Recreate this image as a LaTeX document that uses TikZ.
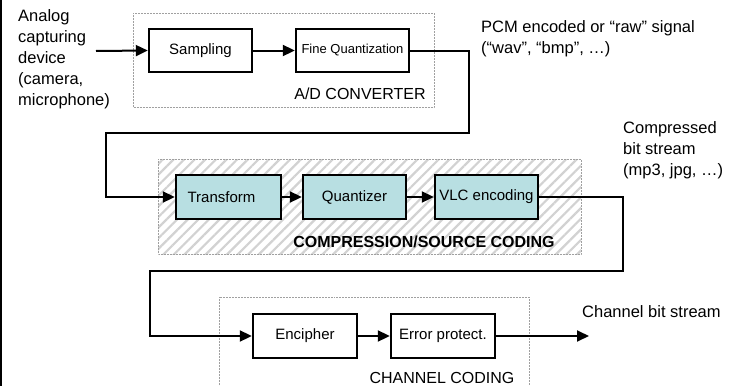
\documentclass[tikz,border=0pt]{standalone}
\usepackage{fontspec}
\setsansfont{Liberation Sans}
\usetikzlibrary{arrows.meta,patterns.meta}
\definecolor{blkink}{HTML}{000000}
\definecolor{grpgray}{HTML}{A0A0A0}
\definecolor{hatchgray}{HTML}{D2D2D2}
\definecolor{codecyan}{HTML}{B8DFE2}

\begin{document}
\begin{tikzpicture}[x=1pt, y=-1pt, font=\sffamily, text=blkink,
    block/.style={draw=blkink, line width=2.4pt, inner sep=0pt, minimum height=43pt,
      font=\sffamily\fontsize{15}{18}\selectfont},
    group/.style={draw=grpgray, line width=0.5pt, densely dotted},
    grouplabel/.style={inner sep=0pt, font=\sffamily\fontsize{16}{19}\selectfont},
    note/.style={inner sep=0pt, align=left, font=\sffamily\fontsize{16.5}{21}\selectfont},
    flow/.style={draw=blkink, line width=2pt, -{Triangle[length=12pt, width=11pt]}},
  ]
  \useasboundingbox (0,0) rectangle (740,386);

  % frame edge on the left
  \draw[line width=2pt] (1,0) -- (1,386);

  % group frames
  \draw[group] (133,13) rectangle (434,107);
  \fill[pattern={Lines[angle=45, distance=7.5pt, line width=2.2pt]}, pattern color=hatchgray]
    (158,159) rectangle (581,254);
  \draw[group] (158,159) rectangle (581,254);
  \draw[group] (219,297) rectangle (529,395);
  \node[grouplabel] (adclab) at (360,94) {A/D CONVERTER};
  \node[grouplabel, font=\sffamily\bfseries\fontsize{16}{19}\selectfont] (complab) at (424,242) {COMPRESSION/SOURCE CODING};
  \node[grouplabel] (chanlab) at (442,378) {CHANNEL CODING};

  % A/D converter
  \node[block, minimum width=103pt] (sampling) at (200.5,50.5) {Sampling};
  \node[block, minimum width=113pt, font=\sffamily\fontsize{13}{16}\selectfont] (fineq) at (352.5,50.5) {Fine Quantization};

  % source coding
  \node[block, fill=codecyan, minimum width=105pt, minimum height=44pt] (transform) at (228.5,197) {\hspace*{-14pt}Transform};
  \node[block, fill=codecyan, minimum width=103pt, minimum height=44pt] (quant) at (354.5,197) {Quantizer};
  \node[block, fill=codecyan, minimum width=103pt, minimum height=44pt] (vlc) at (486.5,197) {VLC encoding};

  % channel coding
  \node[block, minimum width=104pt, minimum height=44pt] (encipher) at (305,336) {Encipher};
  \node[block, minimum width=104pt, minimum height=44pt] (errprot) at (443,336) {Error protect.};

  % notes
  \node[note, anchor=north west] (analog) at (18,9) {Analog\\capturing\\device\\(camera,\\microphone)};
  \node[note, anchor=north west] (pcm) at (481,20) {PCM encoded or “raw” signal\\(“wav”, “bmp”, …)};
  \node[note, anchor=north west] (compressed) at (623,121) {Compressed\\bit stream\\(mp3, jpg, …)};
  \node[note, anchor=west] (chanstream) at (582,312) {Channel bit stream};

  % turning points of the connectors
  \coordinate (capin) at (96,51);
  \coordinate (bendA) at (469,133);
  \coordinate (bendB) at (106,133);
  \coordinate (bendC) at (623,271);
  \coordinate (bendD) at (150,271);
  \coordinate (chanout) at (589,336);

  % connectors
  \draw[flow] (capin) -- (sampling.west);
  \draw[flow] (sampling) -- (fineq);
  \draw[flow] (fineq.east) -| (bendA) -- (bendB) |- (transform.west);
  \draw[flow] (transform) -- (quant);
  \draw[flow] (quant) -- (vlc);
  \draw[flow] (vlc.east) -| (bendC) -- (bendD) |- (encipher.west);
  \draw[flow] (encipher) -- (errprot);
  \draw[flow] (errprot.east) -- (chanout);
\end{tikzpicture}
\end{document}
